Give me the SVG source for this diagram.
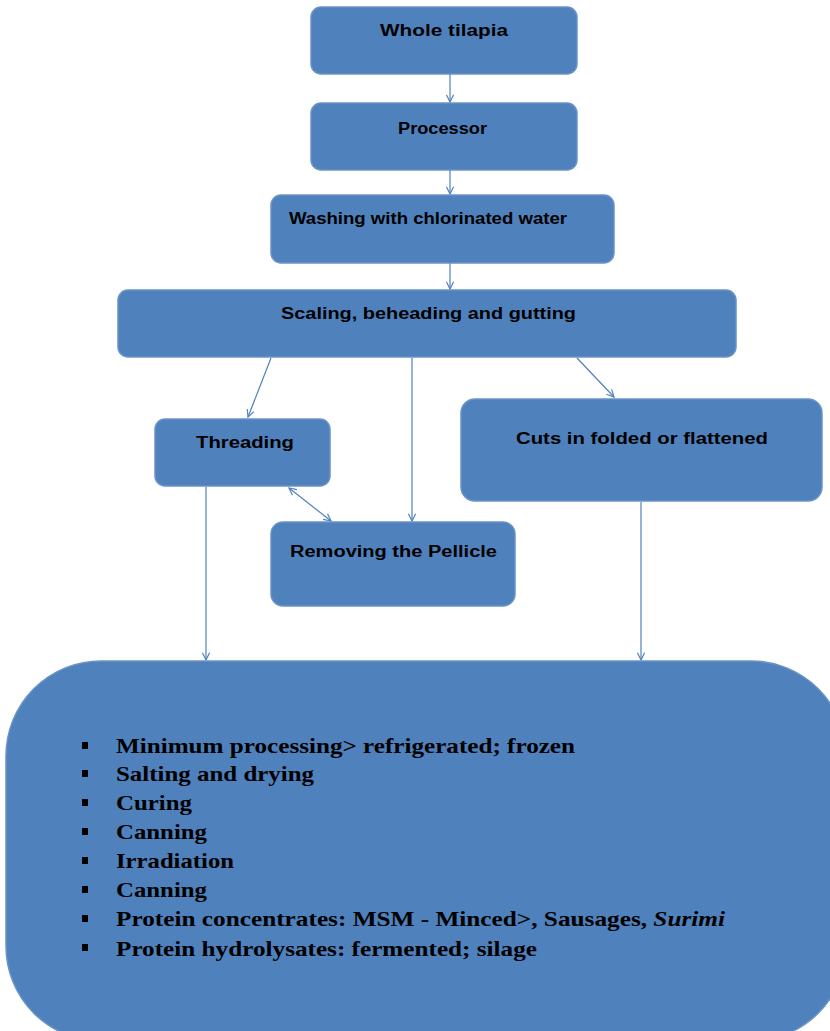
<svg xmlns="http://www.w3.org/2000/svg" width="830" height="1031" viewBox="0 0 830 1031">
<style>
.box{fill:#4F81BD;stroke:#6A93C6;stroke-width:1.5}
.lbl{font-family:"Liberation Sans",Arial,sans-serif;font-weight:bold;font-size:16px;fill:#000;text-anchor:start}
.item{font-family:"Liberation Serif","Times New Roman",serif;font-weight:bold;font-size:21px;fill:#000}
.it{font-family:"Liberation Serif","Times New Roman",serif;font-style:italic;font-weight:bold}
.conn{stroke:#4F81BD;stroke-width:1.2;fill:none}
</style>
<defs>
<marker id="ah" viewBox="0 0 10 10" refX="9" refY="5" markerWidth="9" markerHeight="9" orient="auto-start-reverse" markerUnits="userSpaceOnUse">
<path d="M1,1 L9,5 L1,9" fill="none" stroke="#4F81BD" stroke-width="1.3"/>
</marker>
</defs>
<rect width="830" height="1031" fill="#fff"/>
<g id="connectors">
<line class="conn" x1="450" y1="74" x2="450" y2="102" marker-end="url(#ah)"/>
<line class="conn" x1="450" y1="170" x2="450" y2="194" marker-end="url(#ah)"/>
<line class="conn" x1="450" y1="263" x2="450" y2="289" marker-end="url(#ah)"/>
<line class="conn" x1="271" y1="358" x2="248" y2="417" marker-end="url(#ah)"/>
<line class="conn" x1="412" y1="358" x2="412" y2="521" marker-end="url(#ah)"/>
<line class="conn" x1="577" y1="358" x2="614" y2="397" marker-end="url(#ah)"/>
<line class="conn" x1="289" y1="488" x2="331" y2="521" marker-start="url(#ah)" marker-end="url(#ah)"/>
<line class="conn" x1="206" y1="487" x2="206" y2="660" marker-end="url(#ah)"/>
<line class="conn" x1="641" y1="502" x2="641" y2="660" marker-end="url(#ah)"/>
</g>
<g id="whole">
<rect class="box" x="311" y="7" width="266" height="67" rx="10"/>
<text class="lbl" x="380" y="36" textLength="128" lengthAdjust="spacingAndGlyphs">Whole tilapia</text>
</g>
<g id="processor">
<rect class="box" x="311" y="103" width="266" height="67" rx="10"/>
<text class="lbl" x="398" y="134" textLength="89" lengthAdjust="spacingAndGlyphs">Processor</text>
</g>
<g id="washing">
<rect class="box" x="271" y="195" width="343" height="68" rx="10"/>
<text class="lbl" x="289" y="224" textLength="278" lengthAdjust="spacingAndGlyphs">Washing with chlorinated water</text>
</g>
<g id="scaling">
<rect class="box" x="118" y="290" width="618" height="67" rx="10"/>
<text class="lbl" x="281" y="319" textLength="295" lengthAdjust="spacingAndGlyphs">Scaling, beheading and gutting</text>
</g>
<g id="threading">
<rect class="box" x="155" y="419" width="175" height="67" rx="10"/>
<text class="lbl" x="196" y="448" textLength="98" lengthAdjust="spacingAndGlyphs">Threading</text>
</g>
<g id="cuts">
<rect class="box" x="461" y="399" width="361" height="102" rx="14"/>
<text class="lbl" x="516" y="444" textLength="252" lengthAdjust="spacingAndGlyphs">Cuts in folded or flattened</text>
</g>
<g id="pellicle">
<rect class="box" x="271" y="522" width="244" height="84" rx="12"/>
<text class="lbl" x="290" y="557" textLength="207" lengthAdjust="spacingAndGlyphs">Removing the Pellicle</text>
</g>
<g id="products">
<rect class="box" x="6" y="661" width="840" height="380" rx="95"/>
<g fill="#000">
<rect x="82" y="742" width="6" height="7"/>
<rect x="82" y="770" width="6" height="7"/>
<rect x="82" y="799" width="6" height="7"/>
<rect x="82" y="828" width="6" height="7"/>
<rect x="82" y="857" width="6" height="7"/>
<rect x="82" y="886" width="6" height="7"/>
<rect x="82" y="915" width="6" height="7"/>
<rect x="82" y="944" width="6" height="7"/>
</g>
<text class="item" x="116" y="753" textLength="459" lengthAdjust="spacingAndGlyphs">Minimum processing&gt; refrigerated; frozen</text>
<text class="item" x="116" y="781" textLength="198" lengthAdjust="spacingAndGlyphs">Salting and drying</text>
<text class="item" x="116" y="810" textLength="76" lengthAdjust="spacingAndGlyphs">Curing</text>
<text class="item" x="116" y="839" textLength="91" lengthAdjust="spacingAndGlyphs">Canning</text>
<text class="item" x="116" y="868" textLength="118" lengthAdjust="spacingAndGlyphs">Irradiation</text>
<text class="item" x="116" y="897" textLength="91" lengthAdjust="spacingAndGlyphs">Canning</text>
<text class="item" x="116" y="926" textLength="609" lengthAdjust="spacingAndGlyphs">Protein concentrates: MSM - Minced&gt;, Sausages, <tspan class="it">Surimi</tspan></text>
<text class="item" x="116" y="956" textLength="421" lengthAdjust="spacingAndGlyphs">Protein hydrolysates: fermented; silage</text>
</g>
</svg>
